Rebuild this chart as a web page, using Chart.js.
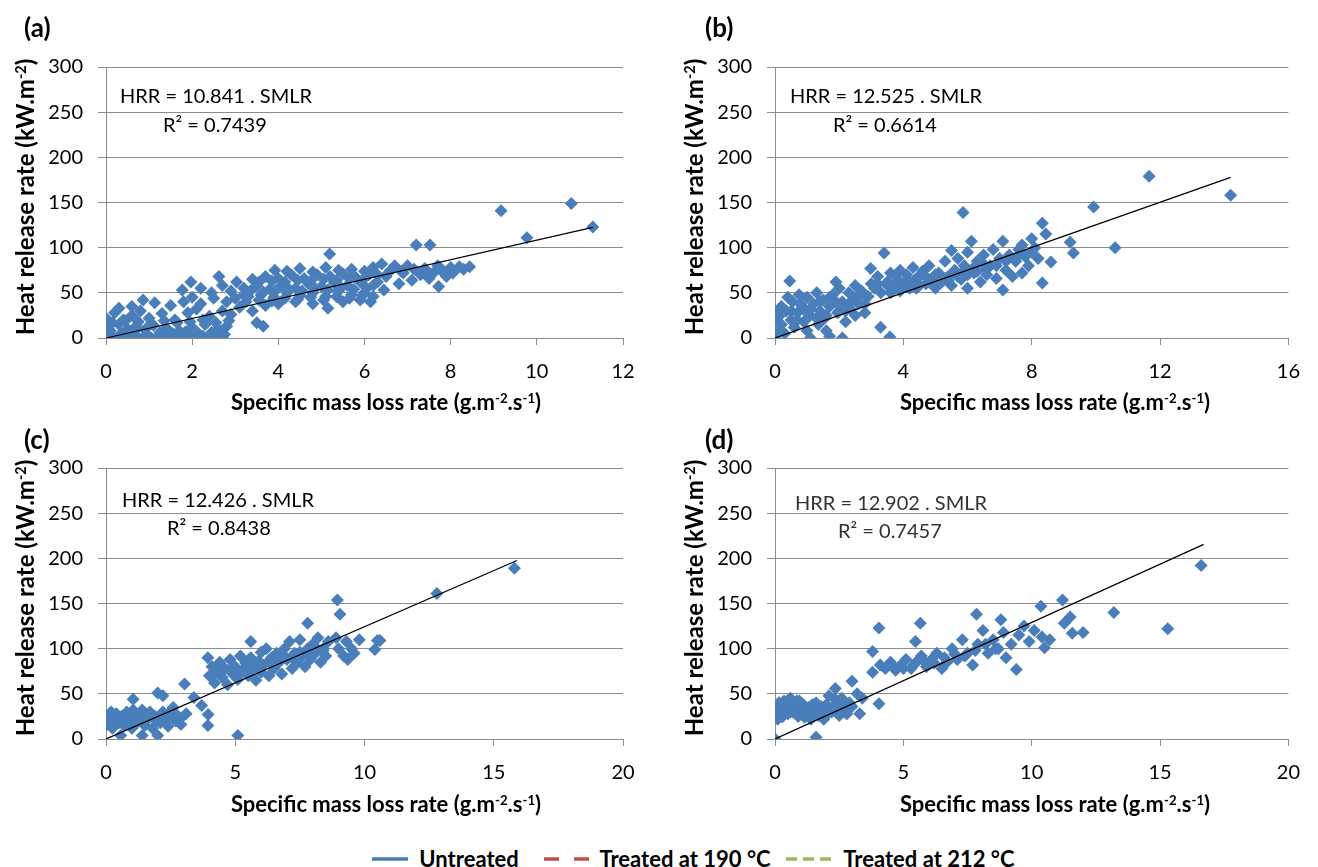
<!DOCTYPE html>
<html>
<head>
<meta charset="utf-8">
<script src="https://cdn.jsdelivr.net/npm/chart.js@4.4.0/dist/chart.umd.min.js"></script>
<style>
  body { margin: 0; background: #fff; }
  #page { position: relative; width: 1318px; height: 867px; overflow: hidden; font-family: Lato, sans-serif; color: #000; }
  canvas { position: absolute; }
  .tag { position: absolute; font-weight: bold; font-size: 26px; line-height: 1; }
  .eq { position: absolute; font-size: 20px; line-height: 1; white-space: nowrap; }
  .xt { position: absolute; width: 400px; margin-left: -200px; text-align: center; font-weight: bold; font-size: 22px; line-height: 1; white-space: nowrap; }
  .yt { position: absolute; width: 320px; margin-left: -160px; margin-top: -12px; text-align: center; font-weight: bold; font-size: 24px; line-height: 24px; white-space: nowrap; transform: rotate(-90deg); }
  sup { font-size: 0.6em; line-height: 0; vertical-align: 0.55em; }
  #legend { position: absolute; top: 845px; left: 372px; font-weight: bold; font-size: 22px; line-height: 24px; white-space: nowrap; }
  #legend span, #legend svg { display: inline-block; vertical-align: middle; }
</style>
</head>
<body>
<div id="page">
  <canvas id="chartA" style="left:0px;top:40px" width="650" height="360"></canvas>
  <canvas id="chartB" style="left:669px;top:40px" width="646" height="360"></canvas>
  <canvas id="chartC" style="left:0px;top:441px" width="650" height="360"></canvas>
  <canvas id="chartD" style="left:669px;top:441px" width="646" height="360"></canvas>

  <div class="tag" style="left:24px;top:14px">(a)</div>
  <div class="tag" style="left:705px;top:14px">(b)</div>
  <div class="tag" style="left:24px;top:426px">(c)</div>
  <div class="tag" style="left:705px;top:426px">(d)</div>

  <div class="yt" style="left:25px;top:197px">Heat release rate (kW.m<sup>-2</sup>)</div>
  <div class="yt" style="left:694px;top:197px">Heat release rate (kW.m<sup>-2</sup>)</div>
  <div class="yt" style="left:25px;top:598px">Heat release rate (kW.m<sup>-2</sup>)</div>
  <div class="yt" style="left:694px;top:598px">Heat release rate (kW.m<sup>-2</sup>)</div>

  <div class="xt" style="left:386px;top:391px">Specific mass loss rate (g.m<sup>-2</sup>.s<sup>-1</sup>)</div>
  <div class="xt" style="left:1055px;top:391px">Specific mass loss rate (g.m<sup>-2</sup>.s<sup>-1</sup>)</div>
  <div class="xt" style="left:386px;top:793px">Specific mass loss rate (g.m<sup>-2</sup>.s<sup>-1</sup>)</div>
  <div class="xt" style="left:1055px;top:793px">Specific mass loss rate (g.m<sup>-2</sup>.s<sup>-1</sup>)</div>

  <div class="eq" id="eqA" style="left:120px;top:85px"></div>
  <div class="eq" id="r2A" style="left:163px;top:114px"></div>
  <div class="eq" id="eqB" style="left:790px;top:85px"></div>
  <div class="eq" id="r2B" style="left:833px;top:114px"></div>
  <div class="eq" id="eqC" style="left:122px;top:489px"></div>
  <div class="eq" id="r2C" style="left:167px;top:517px"></div>
  <div class="eq" id="eqD" style="left:795px;top:492px;color:#333"></div>
  <div class="eq" id="r2D" style="left:838px;top:520px;color:#333"></div>

  <div id="legend">
    <svg width="36" height="8"><line x1="0" y1="4" x2="36" y2="4" stroke="#4a7ebb" stroke-width="3.5"/></svg>
    <span style="margin:0 20px 0 6px">Untreated</span>
    <svg width="46" height="8"><line x1="0" y1="4" x2="46" y2="4" stroke="#c0504d" stroke-width="3.5" stroke-dasharray="15 15"/></svg>
    <span style="margin:0 10px 0 4px">Treated at 190 °C</span>
    <svg width="46" height="8"><line x1="0" y1="4" x2="46" y2="4" stroke="#9bbb59" stroke-width="3.5" stroke-dasharray="11 6"/></svg>
    <span style="margin-left:6px">Treated at 212 °C</span>
  </div>
</div>

<script>
// axis ticks shared by all four panels
const hrrTicks = [0, 50, 100, 150, 200, 250, 300];

// panel (a)
const smlrA = [
  0, 0.15, 0.3, 0.45, 0.6, 0.75, 0.9, 1.05, 1.2, 1.35, 1.5, 1.65, 1.8, 1.95, 2.1, 2.25, 2.4, 2.55, 2.7,
  0.05, 0.35, 0.65, 0.95, 1.25, 1.55, 1.85, 2.15, 2.45, 2.75,
  0, 0.1, 0.3, 0.5, 0.7, 0.9, 1.1, 1.4, 1.7, 2.0, 2.3, 2.6, 2.8,
  0.15, 0.45, 0.75, 1.05, 1.35, 1.65, 1.95, 2.25, 2.55, 2.85,
  0, 0.2, 0.4, 0.6, 0.8, 1.0, 1.3, 1.6, 1.9, 2.1, 2.4, 2.7, 2.9,
  0.3, 0.6, 0.86, 1.13, 1.5, 1.8, 2.0, 2.2, 2.5, 2.8,
  1.77, 1.97, 2.2, 2.45, 2.62, 2.7, 2.9, 3.03, 3.2, 3.5, 3.65,
  3.1, 3.4, 3.7, 4.0, 4.4, 4.8, 5.15, 5.5, 5.9, 6.14,
  3.25, 3.55, 3.85, 4.15, 4.45, 4.75, 5.05, 5.35, 5.65, 5.95,
  3.0, 3.3, 3.6, 3.9, 4.2, 4.5, 4.8, 5.1, 5.4, 5.7, 6.0, 6.2,
  3.35, 3.65, 3.95, 4.25, 4.55, 4.85, 5.15, 5.45, 5.75, 6.05,
  3.2, 3.5, 3.8, 4.1, 4.4, 4.7, 5.0, 5.3, 5.6, 5.9, 6.2,
  3.55, 3.85, 4.15, 4.45, 4.75, 5.05, 5.35, 5.65, 5.95,
  3.4, 3.7, 4.0, 4.3, 4.6, 4.9, 5.2, 5.5, 5.8, 6.1,
  3.92, 4.2, 4.5, 4.8, 5.1, 5.4, 5.7, 6.0, 5.19,
  6.45, 6.3, 6.5, 6.6, 6.8, 6.9, 7.0, 7.1, 7.3, 7.4, 7.5, 7.6, 7.7, 7.72, 7.8, 7.9, 8.0, 8.2, 8.44, 6.2, 6.4, 6.7,
  6.3, 6.55, 6.85, 7.15, 7.45, 7.75, 8.05, 8.3,
  7.2, 7.52, 9.17, 10.8, 11.3, 9.77
];
const hrrA = [
  0, 2, 0, 3, 1, 0, 2, 0, 1, 3, 0, 2, 0, 1, 0, 2, 0, 3, 1,
  6, 5, 7, 4, 6, 5, 7, 5, 6, 4,
  12, 8, 15, 10, 13, 9, 14, 11, 8, 12, 15, 10, 13,
  17, 19, 18, 16, 19, 17, 18, 20, 17, 19,
  22, 28, 20, 25, 30, 22, 27, 20, 28, 32, 24, 30, 26,
  33, 35, 42, 39, 36, 40, 45, 38, 44, 40,
  53, 62, 55, 50, 68, 58, 52, 62, 48, 17, 13,
  34, 30, 36, 38, 40, 38, 33, 40, 42, 40,
  40, 42, 41, 44, 43, 45, 42, 46, 44, 47,
  44, 46, 48, 45, 50, 47, 50, 46, 52, 48, 50, 46,
  52, 51, 53, 54, 52, 55, 53, 56, 54, 55,
  55, 58, 54, 58, 55, 60, 57, 61, 58, 62, 58,
  62, 63, 62, 64, 63, 65, 64, 66, 64,
  65, 68, 66, 70, 66, 70, 68, 71, 67, 70,
  75, 74, 77, 73, 78, 75, 76, 74, 93,
  53, 62, 68, 75, 60, 72, 80, 64, 70, 77, 66, 72, 80, 57, 74, 68, 78, 79, 79, 78, 82, 80,
  70, 72, 74, 76, 74, 78, 72, 76,
  103, 103, 141, 149, 123, 111
];

// panel (b)
const smlrB = [
  0, 0.1, 0.05, 0.2, 0.15, 0.3, 0.35, 0.46, 0.5, 0.55, 0.6, 0.7, 0.75, 0.85, 0.9, 1.0, 1.0, 1.1, 1.1, 1.2,
  1.3, 1.35, 1.4, 1.5, 1.55, 1.6, 1.7, 1.7, 1.8, 1.9, 1.95, 2.0, 2.1, 2.1, 2.2, 2.3, 2.35, 2.45, 2.5, 2.6,
  0.2, 0.5, 0.8, 1.1, 1.4, 1.7, 2.0, 2.3, 2.6,
  0.1, 0.4, 0.7, 1.0, 1.3, 1.6, 1.9, 2.2, 2.5, 2.8,
  2.7, 2.8, 2.9, 2.98, 3.0, 3.29, 3.58, 3.4,
  3.1, 3.2, 3.3, 3.5, 3.6, 3.7, 3.8, 3.9, 4.0, 4.1, 4.2, 4.3, 4.4, 4.5, 4.6, 4.7, 4.8, 4.9, 5.0, 5.1,
  3.2, 3.5, 3.8, 4.1, 4.4, 4.7, 5.0, 5.3, 5.6, 5.9, 6.2, 6.5,
  3.6, 3.9, 4.2, 4.5, 4.8, 5.1, 5.4, 5.7, 6.0, 6.3, 6.6, 6.9, 7.2, 7.5, 7.8,
  5.2, 5.3, 5.4, 5.5, 5.5, 5.6, 5.7, 5.8, 5.86, 5.9, 6.0, 6.0, 6.12, 6.2, 6.3, 6.4, 6.5, 6.6, 6.7, 6.8,
  6.9, 7.0, 7.1, 7.1, 7.2, 7.3, 7.4, 7.5, 7.6, 7.7, 7.7, 7.8, 7.9, 8.0, 8.0, 8.1, 8.2, 8.33, 8.33, 8.44,
  8.6, 9.2, 9.3, 9.93, 10.6, 11.66, 14.2
];
const hrrB = [
  0, 8, 20, 15, 25, 5, 30, 63, 20, 40, 12, 28, 48, 35, 18, 8, 45, 0, 25, 38,
  50, 15, 30, 42, 22, 8, 2, 35, 48, 62, 28, 55, 0, 40, 18, 50, 32, 45, 58, 38,
  35, 30, 38, 32, 40, 45, 30, 38, 45,
  30, 45, 20, 28, 22, 25, 40, 30, 25, 38,
  52, 28, 46, 77, 60, 12, 1, 94,
  55, 68, 50, 62, 72, 55, 66, 75, 58, 70, 62, 78, 55, 68, 74, 60, 80, 66, 55, 72,
  60, 58, 62, 64, 66, 68, 70, 66, 72, 75, 78, 82,
  50, 52, 55, 58, 62, 60, 64, 68, 70, 74, 76, 80, 85, 88, 92,
  62, 85, 68, 97, 58, 75, 88, 65, 139, 80, 95, 55, 107, 72, 85, 62, 92, 70, 80, 98,
  66, 88, 107, 53, 75, 92, 68, 85, 98, 103, 72, 90, 80, 95, 110, 100, 88, 127, 61, 115,
  84, 106, 94, 145, 100, 179, 158
];

// panel (c)
const smlrC = [
  0, 0, 0.1, 0.2, 0.25, 0.3, 0.4, 0.5, 0.57, 0.6, 0.7, 0.8, 0.9, 1.0, 1.05, 1.1, 1.2, 1.3, 1.4, 1.4,
  1.5, 1.6, 1.7, 1.8, 1.9, 2.0, 2.0, 2.1, 2.2, 2.2, 2.3, 2.4, 2.5, 2.6, 2.7, 2.8, 2.9, 3.04, 3.1, 3.4,
  0.15, 0.45, 0.75, 1.05, 1.35, 1.65, 1.95, 2.25, 2.55, 2.85,
  3.7, 3.95, 3.94, 5.1,
  3.94, 4.0, 4.1, 4.2, 4.3, 4.4, 4.5, 4.6, 4.7, 4.8, 4.9, 5.0, 5.1, 5.2, 5.3, 5.4, 5.5, 5.6, 5.6, 5.7,
  4.2, 4.5, 4.8, 5.1, 5.4, 5.7, 6.0, 6.3, 6.6, 6.9, 7.2, 7.5, 7.8, 8.1, 8.4,
  5.8, 5.9, 6.0, 6.0, 6.1, 6.2, 6.3, 6.4, 6.5, 6.6, 6.7, 6.8, 6.9, 7.0, 7.1, 7.2, 7.3, 7.4, 7.5, 7.6,
  7.7, 7.8, 7.8, 7.9, 8.0, 8.1, 8.2, 8.3, 8.4, 8.5, 8.6,
  8.95, 9.05, 8.9, 9.0, 9.2, 9.3, 9.35, 9.5, 9.6, 9.8, 10.4, 10.5, 10.6, 12.8, 15.8
];
const hrrC = [
  15, 25, 20, 30, 12, 22, 28, 18, 4, 25, 15, 30, 22, 12, 44, 28, 18, 25, 4, 32,
  15, 22, 30, 12, 25, 51, 4, 18, 48, 30, 22, 14, 28, 35, 20, 25, 16, 61, 28, 46,
  28, 18, 22, 32, 22, 28, 20, 26, 32, 22,
  37, 27, 15, 4,
  90, 70, 80, 62, 75, 85, 68, 78, 60, 88, 72, 80, 66, 92, 75, 84, 70, 108, 90, 78,
  72, 75, 78, 70, 80, 85, 80, 86, 88, 92, 90, 96, 95, 102, 98,
  65, 86, 96, 74, 82, 100, 70, 90, 78, 95, 85, 72, 100, 88, 108, 78, 95, 85, 110, 92,
  80, 128, 100, 88, 105, 95, 112, 85, 100, 92, 108,
  154, 138, 112, 100, 92, 108, 88, 100, 95, 110, 99, 109, 109, 161, 189
];

// panel (d)
const smlrD = [
  0, 1.6, 0, 0, 0.1, 0.15, 0.2, 0.3, 0.35, 0.4, 0.5, 0.55, 0.6, 0.7, 0.8, 0.9, 0.95, 1.0, 1.1, 1.2,
  1.3, 1.4, 1.5, 1.6, 1.7, 1.8, 1.9, 2.0, 2.1, 2.2, 2.35, 2.4, 2.5, 2.6, 2.7, 2.8, 2.9, 3.0, 3.2, 3.4, 3.3,
  0.05, 0.3, 0.6, 0.9, 1.2, 1.5, 1.8, 2.1, 2.4, 2.7, 3.0,
  0.25, 0.55, 0.85, 1.15, 1.45, 1.75, 2.05, 2.35, 2.65,
  3.8, 3.8, 4.05, 4.05, 4.1, 4.3, 4.5, 4.7, 4.9, 5.1, 5.3, 5.47, 5.5, 5.66, 5.7, 5.9, 6.1, 6.3, 6.5, 6.7,
  4.6, 5.0, 5.4, 5.8, 6.2, 6.6, 7.0, 7.4, 7.8, 8.2, 8.6,
  6.9, 7.1, 7.3, 7.5, 7.7, 7.85, 7.9, 8.1, 8.3, 8.5, 8.8, 8.7, 8.9, 9.0, 9.4, 9.2, 9.5, 9.7, 9.9, 10.1,
  10.36, 10.4, 10.5, 10.7, 11.2, 11.27, 11.5, 11.58, 12.0, 13.2, 15.3, 16.6
];
const hrrD = [
  0, 2, 28, 35, 22, 40, 30, 25, 42, 33, 28, 38, 45, 30, 36, 25, 42, 32, 38, 28,
  35, 22, 30, 40, 26, 33, 22, 38, 48, 30, 56, 40, 26, 45, 35, 28, 40, 64, 50, 45, 28,
  32, 38, 30, 36, 33, 28, 36, 32, 38, 30, 36,
  25, 44, 42, 24, 38, 30, 28, 44, 38,
  97, 74, 123, 39, 82, 78, 85, 76, 82, 88, 78, 108, 85, 128, 92, 80, 88, 95, 78, 85,
  80, 78, 82, 86, 84, 90, 94, 92, 98, 105, 100,
  100, 88, 110, 95, 82, 138, 105, 120, 95, 110, 132, 100, 118, 90, 77, 105, 115, 125, 108, 120,
  147, 113, 101, 110, 154, 128, 135, 117, 118, 140, 122, 192
];

// trendline equations (HRR = slope . SMLR) and where each line stops
const fitSlopes = [10.841, 12.525, 12.426, 12.902];
const fitR2 = ['0.7439', '0.6614', '0.8438', '0.7457'];
const fitEnds = [11.3, 14.2, 15.9, 16.7];
const xMaxes = [12, 16, 20, 20];
const xSteps = [2, 4, 5, 5];

Chart.defaults.font.family = 'Lato, sans-serif';
Chart.defaults.color = '#000';

const gridGray = '#8c8c8c';
const markerBlue = '#4a7ebb';

function makePanel(id, xs, ys, i, padRight) {
  const points = xs.map((x, k) => ({ x: x, y: ys[k] }));
  const fitLine = [
    { x: 0, y: 0 },
    { x: fitEnds[i], y: fitSlopes[i] * fitEnds[i] }
  ];
  new Chart(document.getElementById(id), {
    type: 'scatter',
    data: {
      datasets: [
        {
          type: 'line',
          data: fitLine,
          borderColor: '#000',
          borderWidth: 1.2,
          pointRadius: 0,
          fill: false
        },
        {
          data: points,
          pointStyle: 'rectRot',
          pointRadius: 6.5,
          backgroundColor: markerBlue,
          borderWidth: 0
        }
      ]
    },
    options: {
      responsive: false,
      animation: false,
      layout: { padding: { top: 27, right: padRight, bottom: 0, left: 0 } },
      plugins: { legend: { display: false }, tooltip: { enabled: false } },
      scales: {
        x: {
          type: 'linear',
          min: 0,
          max: xMaxes[i],
          afterFit: s => { s.height = 62; },
          ticks: { stepSize: xSteps[i], padding: 15, font: { size: 20 } },
          grid: { drawOnChartArea: false, drawTicks: true, tickLength: 7, color: gridGray },
          border: { color: gridGray }
        },
        y: {
          min: 0,
          max: 300,
          afterFit: s => { s.width = 106; },
          afterBuildTicks: s => { s.ticks = hrrTicks.map(v => ({ value: v })); },
          ticks: { padding: 15, font: { size: 20 } },
          grid: { color: gridGray, tickLength: 8 },
          border: { color: gridGray }
        }
      }
    }
  });
}

makePanel('chartA', smlrA, hrrA, 0, 27);
makePanel('chartB', smlrB, hrrB, 1, 22);
makePanel('chartC', smlrC, hrrC, 2, 27);
makePanel('chartD', smlrD, hrrD, 3, 22);

['A', 'B', 'C', 'D'].forEach((p, i) => {
  document.getElementById('eq' + p).textContent = 'HRR = ' + fitSlopes[i].toFixed(3) + ' . SMLR';
  document.getElementById('r2' + p).textContent = 'R² = ' + fitR2[i];
});
</script>
</body>
</html>
